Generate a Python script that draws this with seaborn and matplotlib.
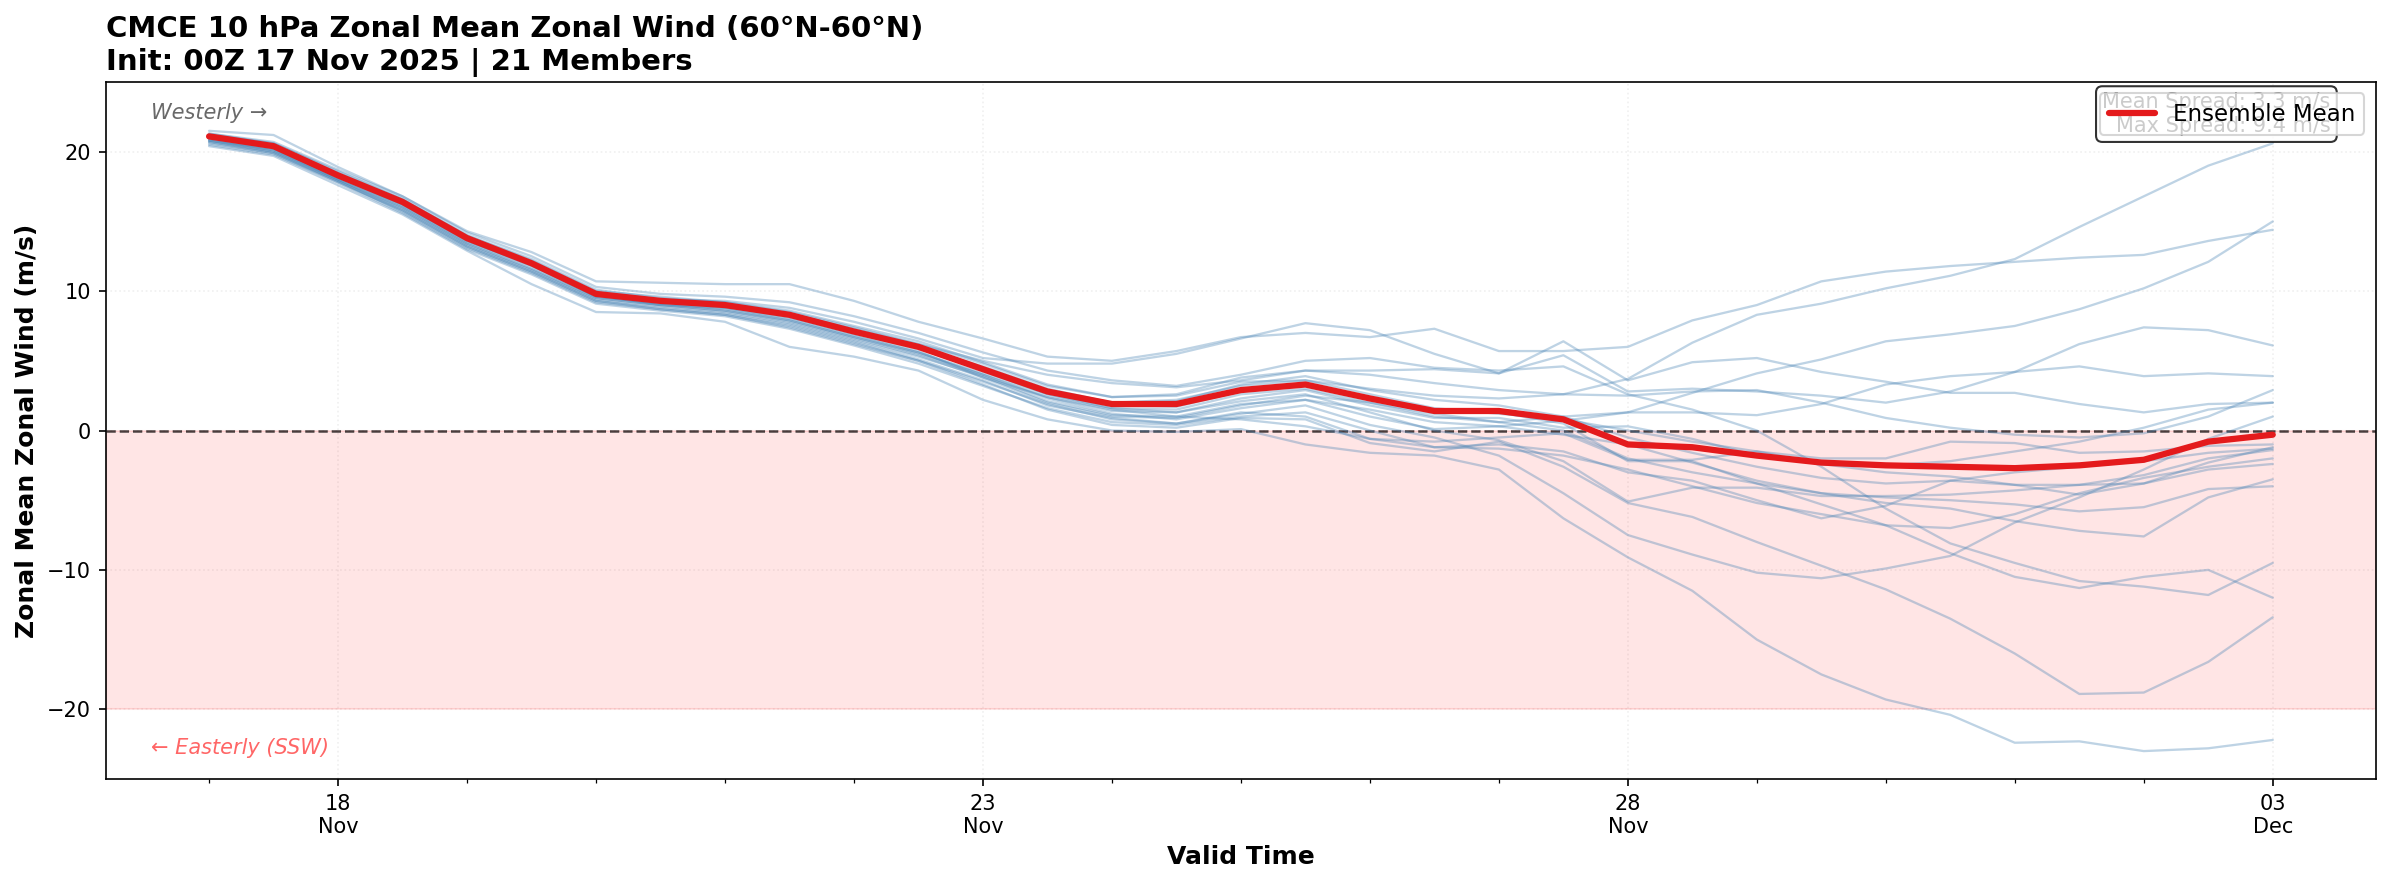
import numpy as np
import pandas as pd
import matplotlib
matplotlib.use("Agg")
import matplotlib.pyplot as plt
import matplotlib.dates as mdates
import seaborn as sns

# ------------------------------
# Datos
# ------------------------------
init_time = "2025-11-17 00:00"
valid_times = pd.date_range(init_time, periods=33, freq="12h")

ensemble_mean = [21.1, 20.4, 18.3, 16.4, 13.8, 12.0, 9.8, 9.3, 9.0, 8.3, 7.1, 6.0,
                 4.4, 2.8, 1.9, 1.9, 2.9, 3.3, 2.3, 1.4, 1.4, 0.8,
                 -1.0, -1.2, -1.8, -2.3, -2.5, -2.6, -2.7, -2.5, -2.1, -0.8, -0.3]

m01 = [21.3, 20.6, 18.6, 16.6, 14.0, 12.2, 10.0, 9.6, 9.2, 8.5, 7.4, 6.2, 5.0, 4.0, 3.4, 3.1, 3.6,
       4.3, 4.0, 3.4, 2.9, 2.6, 3.7, 6.3, 8.3, 9.1, 10.2, 11.1, 12.3, 14.6, 16.8, 19.0, 20.6]
m02 = [21.5, 21.2, 18.9, 16.8, 14.3, 12.8, 10.7, 10.6, 10.5, 10.5, 9.3, 7.8, 6.6, 5.3, 5.0, 5.7, 6.7,
       7.0, 6.7, 7.3, 5.7, 5.7, 6.0, 7.9, 9.0, 10.7, 11.4, 11.8, 12.1, 12.4, 12.6, 13.6, 14.4]
m03 = [21.0, 20.3, 18.2, 16.2, 13.6, 11.8, 9.6, 9.1, 8.8, 8.0, 6.8, 5.6, 4.0, 2.3, 1.2, 0.8, 1.6,
       2.2, 1.5, 0.6, 0.3, 0.7, 1.3, 2.7, 4.1, 5.1, 6.4, 6.9, 7.5, 8.7, 10.2, 12.1, 15.0]
m04 = [20.8, 20.2, 18.0, 16.0, 13.4, 11.6, 9.5, 9.0, 8.6, 7.8, 6.6, 5.4, 3.8, 2.0, 1.0, 0.9, 1.8,
       2.5, 2.0, 1.2, 0.6, 1.0, 1.3, 1.3, 1.1, 1.9, 3.3, 3.9, 4.2, 4.6, 3.9, 4.1, 3.9]
m05 = [21.2, 20.5, 18.4, 16.5, 13.9, 12.1, 9.9, 9.4, 9.3, 8.8, 7.8, 6.6, 5.2, 4.8, 4.8, 5.5, 6.6,
       7.7, 7.2, 5.5, 4.1, 5.4, 2.8, 3.0, 2.8, 2.5, 2.0, 2.8, 4.2, 6.2, 7.4, 7.2, 6.1]
m06 = [21.0, 20.4, 18.3, 16.3, 13.7, 11.9, 9.7, 9.2, 9.0, 8.4, 7.3, 6.2, 4.8, 3.2, 2.4, 2.6, 3.8,
       4.3, 4.3, 4.4, 4.1, 6.4, 3.6, 4.9, 5.2, 4.2, 3.5, 2.7, 2.7, 1.9, 1.3, 1.9, 2.0]
m07 = [20.9, 20.1, 18.1, 16.2, 13.6, 11.9, 9.6, 9.1, 8.7, 7.9, 6.7, 5.6, 4.1, 2.6, 1.6, 1.3, 2.3,
       2.9, 1.8, 0.9, 0.9, 0.2, 0.3, -0.6, -1.8, -2.4, -2.5, -2.2, -1.5, -0.8, 0.2, 1.5, 2.0]
m08 = [21.1, 20.3, 18.2, 16.4, 13.8, 12.0, 9.8, 9.2, 8.9, 8.2, 7.0, 6.0, 4.6, 3.0, 2.0, 2.2, 3.2,
       3.6, 3.0, 2.5, 2.3, 2.6, 2.5, 2.8, 2.9, 2.0, 0.9, 0.2, -0.3, -0.5, -0.2, 1.0, 2.9]
m09 = [20.6, 19.9, 17.9, 15.8, 13.2, 11.4, 9.3, 8.8, 8.4, 7.6, 6.4, 5.1, 3.6, 1.8, 0.9, 0.5, 1.2,
       1.8, 0.4, -0.5, -1.8, -4.5, -7.5, -8.9, -10.2, -10.6, -9.9, -9.0, -6.6, -4.8, -2.8, -0.6, 1.0]
m10 = [20.9, 20.2, 18.2, 16.1, 13.5, 11.8, 9.7, 9.0, 8.8, 8.1, 6.9, 5.7, 3.8, 2.4, 1.5, 1.0, 0.8,
       0.3, -0.6, -0.8, -0.5, -0.2, -2.1, -2.1, -1.5, -2.0, -2.0, -0.8, -0.9, -1.6, -1.5, -1.1, -1.0]
m11 = [21.0, 20.5, 18.4, 16.5, 13.9, 12.1, 9.9, 9.4, 9.1, 8.4, 7.2, 6.1, 4.5, 2.9, 2.0, 2.1, 3.3,
       3.9, 2.9, 2.2, 1.8, 1.0, -0.5, -1.6, -2.6, -3.4, -3.8, -3.6, -3.9, -4.6, -3.8, -2.3, -1.2]
m12 = [21.2, 20.6, 18.5, 16.6, 14.0, 12.3, 10.1, 9.5, 9.2, 8.6, 7.5, 6.4, 4.9, 3.3, 2.4, 2.5, 3.5,
       3.6, 2.6, 1.6, 1.2, 0.8, 0.0, -0.8, -1.5, -2.4, -3.0, -3.3, -3.9, -3.9, -3.8, -2.8, -2.4]
m13 = [21.0, 20.4, 18.3, 16.3, 13.7, 11.9, 9.8, 9.3, 9.0, 8.3, 7.1, 6.0, 4.3, 2.6, 1.6, 1.5, 2.6,
       3.0, 2.0, 1.0, 0.6, 0.0, -2.0, -3.0, -3.8, -4.5, -5.2, -5.6, -6.5, -7.2, -7.6, -4.8, -3.5]
m14 = [20.7, 20.0, 18.0, 15.9, 13.3, 11.5, 9.4, 8.9, 8.5, 7.7, 6.5, 5.3, 3.9, 2.1, 1.1, 1.0, 1.9,
       2.2, 1.0, 0.1, 0.3, -0.3, -1.0, -2.3, -3.6, -4.5, -4.8, -5.0, -5.3, -5.8, -5.5, -4.2, -4.0]
m15 = [20.5, 19.8, 17.8, 15.6, 13.0, 11.2, 9.1, 8.6, 8.2, 7.3, 6.1, 4.8, 3.2, 1.6, 0.6, 0.4, 1.0,
       1.3, 0.0, -1.2, -1.0, -1.5, -3.0, -3.6, -5.0, -6.3, -5.4, -3.6, -3.0, -2.6, -2.2, -1.6, -1.3]
m16 = [20.8, 20.1, 18.0, 16.0, 13.4, 11.6, 9.5, 9.0, 8.6, 7.9, 6.7, 5.5, 4.0, 2.4, 1.4, 1.3, 2.1,
       2.6, 1.3, 0.0, -0.7, -2.2, -5.1, -4.1, -4.1, -4.7, -4.7, -4.6, -4.3, -3.9, -3.2, -2.0, -1.4]
m17 = [21.1, 20.5, 18.4, 16.4, 13.8, 12.0, 9.9, 9.3, 9.0, 8.3, 7.1, 6.0, 4.4, 2.7, 1.8, 1.7, 2.8,
       3.2, 2.2, 1.4, 1.3, 0.5, -2.2, -2.2, -3.8, -5.3, -6.8, -7.0, -6.0, -4.5, -3.4, -2.6, -2.0]
m18 = [21.3, 20.7, 18.7, 16.8, 14.2, 12.5, 10.3, 9.8, 9.6, 9.2, 8.2, 7.0, 5.6, 4.3, 3.6, 3.2, 4.0,
       5.0, 5.2, 4.5, 4.3, 4.6, 2.6, 1.5, 0.0, -2.6, -5.6, -8.1, -9.5, -10.8, -11.2, -11.8, -9.5]
m19 = [20.8, 20.0, 17.9, 15.7, 13.1, 11.3, 9.2, 8.7, 8.3, 7.5, 6.3, 5.0, 3.5, 1.9, 0.8, 0.5, 1.3,
       1.0, -0.6, -1.2, -1.3, -1.8, -2.8, -4.0, -5.2, -6.0, -6.8, -8.8, -10.5, -11.3, -10.5, -10.0, -12.0]
m20 = [20.7, 19.9, 17.8, 15.8, 13.2, 11.4, 9.3, 8.7, 8.3, 7.4, 6.2, 5.0, 3.3, 1.5, 0.4, 0.2, 0.9,
       0.8, -0.9, -1.5, -0.8, -2.6, -5.2, -6.2, -8.0, -9.7, -11.4, -13.5, -16.0, -18.9, -18.8, -16.6, -13.4]
m21 = [20.4, 19.7, 17.6, 15.5, 12.9, 10.5, 8.5, 8.4, 7.8, 6.0, 5.3, 4.3, 2.2, 0.8, 0.0, -0.1, 0.1,
       -1.0, -1.6, -1.8, -2.8, -6.3, -9.1, -11.5, -15.0, -17.5, -19.3, -20.4, -22.4, -22.3, -23.0, -22.8, -22.2]

members = [m01, m02, m03, m04, m05, m06, m07, m08, m09, m10, m11,
           m12, m13, m14, m15, m16, m17, m18, m19, m20, m21]

mean_spread = 3.3
max_spread = 9.4

tick_dates = pd.to_datetime(["2025-11-18", "2025-11-23", "2025-11-28", "2025-12-03"])

# Formato largo para seaborn
df_members = pd.DataFrame({
    "time": np.tile(valid_times, len(members)),
    "wind": np.concatenate(members),
    "member": np.repeat(np.arange(1, len(members) + 1), len(valid_times)),
})
df_mean = pd.DataFrame({"time": valid_times, "wind": ensemble_mean})

# ------------------------------
# Gráfico
# ------------------------------
sns.set_style("ticks")
plt.rcParams["font.family"] = ["DejaVu Sans"]
plt.rcParams.update({
    "text.color": "black",
    "axes.labelcolor": "black",
    "axes.edgecolor": "black",
    "xtick.color": "black",
    "ytick.color": "black",
})

fig, ax = plt.subplots(figsize=(15.9, 5.9), dpi=150)
fig.subplots_adjust(left=0.0444, right=0.9962, bottom=0.1198, top=0.9073)

# Zona de vientos del este (SSW)
ax.axhspan(-20, 0, color="red", alpha=0.1)
ax.axhline(0, color="black", linestyle="--", linewidth=1.2, alpha=0.7)

sns.lineplot(data=df_members, x="time", y="wind", units="member", estimator=None,
             color="steelblue", alpha=0.35, linewidth=1.1, ax=ax, legend=False)
sns.lineplot(data=df_mean, x="time", y="wind", color="#e41a1c", linewidth=3,
             label="Ensemble Mean", ax=ax)

ax.set_ylim(-25, 25)
ax.set_yticks([-20, -10, 0, 10, 20])
ax.set_xticks(tick_dates)
ax.xaxis.set_major_formatter(mdates.DateFormatter("%d\n%b"))
ax.xaxis.set_minor_locator(mdates.DayLocator())
ax.grid(True, alpha=0.3, linestyle=":")

ax.set_xlabel("Valid Time", fontsize=12, fontweight="bold")
ax.set_ylabel("Zonal Mean Zonal Wind (m/s)", fontsize=12, fontweight="bold")
ax.set_title("CMCE 10 hPa Zonal Mean Zonal Wind (60°N-60°N)\n"
             "Init: 00Z 17 Nov 2025 | 21 Members",
             loc="left", fontsize=14, fontweight="bold")

ax.text(0.02, 0.97, "Westerly →", transform=ax.transAxes, fontsize=10,
        style="italic", color="dimgray", va="top")
ax.text(0.02, 0.03, "← Easterly (SSW)", transform=ax.transAxes, fontsize=10,
        style="italic", color="red", alpha=0.6, va="bottom")

# Cuadro de dispersión (queda detrás de la leyenda)
ax.text(0.98, 0.985, f"Mean Spread: {mean_spread:.1f} m/s\nMax Spread: {max_spread:.1f} m/s",
        transform=ax.transAxes, fontsize=10, ha="right", va="top",
        bbox=dict(boxstyle="round", facecolor="white", edgecolor="black", alpha=0.8))

ax.legend(loc="upper right", fontsize=11)

for spine in ax.spines.values():
    spine.set_visible(True)

plt.savefig("out.png", dpi=150)
